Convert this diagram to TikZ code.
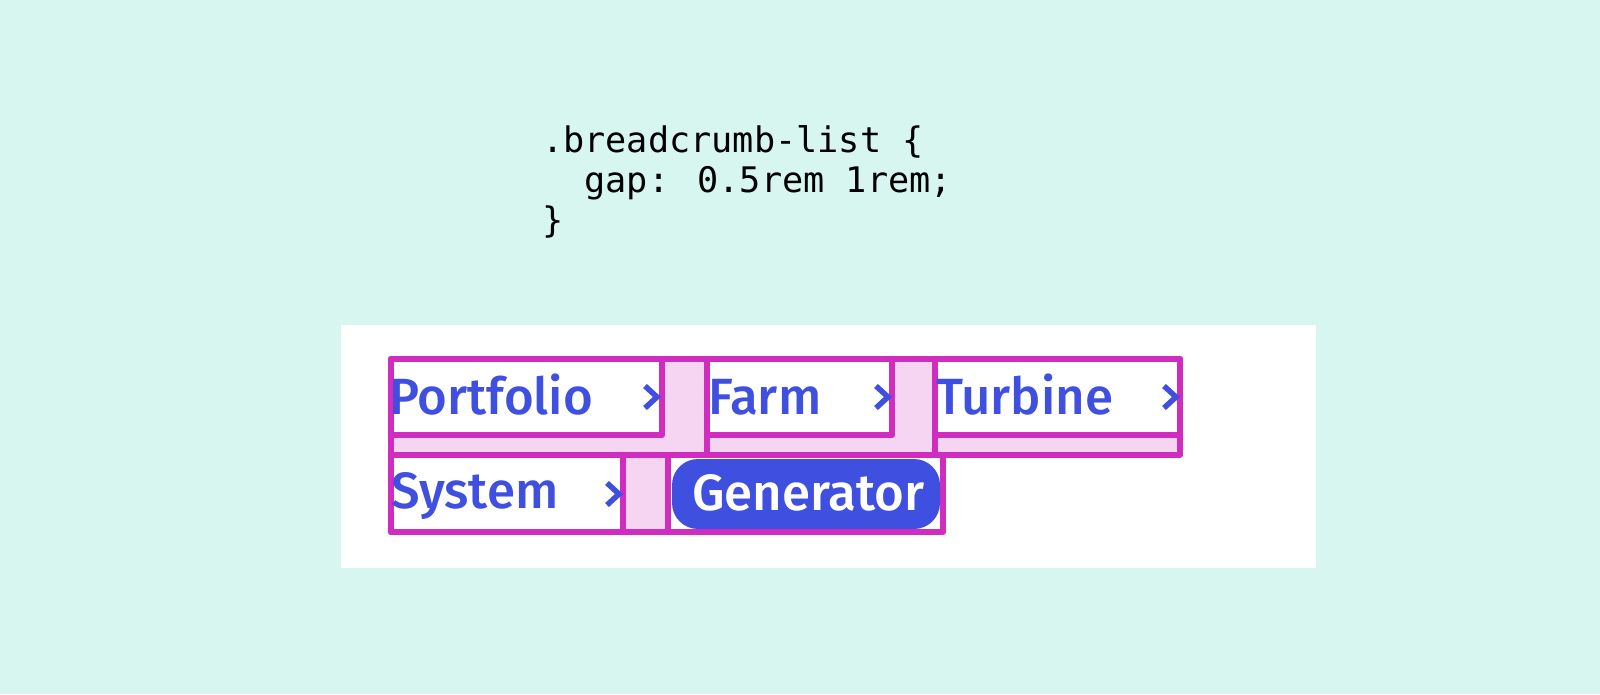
\documentclass[tikz,border=0pt]{standalone}
\usepackage{fontspec}
\newfontfamily\crumbfont{Fira Sans Medium}
\newfontfamily\codefont{DejaVu Sans Mono}
\definecolor{mint}{HTML}{D6F6EF}
\definecolor{mag}{HTML}{D02CC0}
\definecolor{pinkfill}{HTML}{F5D5F2}
\definecolor{crumbblue}{HTML}{3F4FDF}
\tikzset{
  x=1pt, y=-1pt,
  outerbox/.style={draw=mag, fill=pinkfill, line width=6pt, line join=round},
  itembox/.style={draw=mag, fill=white, line width=6pt, line join=round},
  crumb/.style={anchor=base west, inner sep=0pt, text=crumbblue, font=\crumbfont\fontsize{51}{60}\selectfont},
  chev/.style={draw=crumbblue, line width=5.5pt},
  code/.style={anchor=base west, inner sep=0pt, font=\codefont\fontsize{35.2}{40}\selectfont}
}
\begin{document}
\begin{tikzpicture}
\fill[mint] (0,0) rectangle (1600,694);
\useasboundingbox (0,0) rectangle (1600,694);
\fill[white] (341,325) rectangle (1316,568);

% code
\node[code] (c1) at (542,152) {.breadcrumb-list \{};
\node[code] (c2) at (584.4,192) {gap: 0.5rem 1rem;};
\node[code] (c3) at (542,232) {\}};

% row 1 outer boxes (item + gaps)
\draw[outerbox] (391,359) rectangle (707,455);
\draw[outerbox] (707,359) rectangle (935,455);
\draw[outerbox] (935,359) rectangle (1180,455);
% row 2 outer box
\draw[outerbox] (391,455) rectangle (668,532);

% item boxes
\draw[itembox] (391,359) rectangle (662,435);
\draw[itembox] (707,359) rectangle (892,435);
\draw[itembox] (935,359) rectangle (1180,435);
\draw[itembox] (391,455) rectangle (623,532);
\draw[itembox] (668,455) rectangle (943,532);

% generator pill
\fill[crumbblue, rounded corners=26pt] (672,459) rectangle (940,529);

% texts
\node[crumb] (portfolio) at (389,414) {Portfolio};
\node[crumb] (farm) at (708,414) {Farm};
\node[crumb] (turbine) at (936,414) {Turbine};
\node[crumb] (system) at (391,508) {System};
\node[crumb, text=white] (generator) at (692,510) {Generator};

% chevrons
\draw[chev] (645,386) -- (657,397) -- (645,408);
\draw[chev] (876,386) -- (888,397) -- (876,408);
\draw[chev] (1164,386) -- (1176,397) -- (1164,408);
\draw[chev] (607,483) -- (619,494) -- (607,505);
\end{tikzpicture}
\end{document}
